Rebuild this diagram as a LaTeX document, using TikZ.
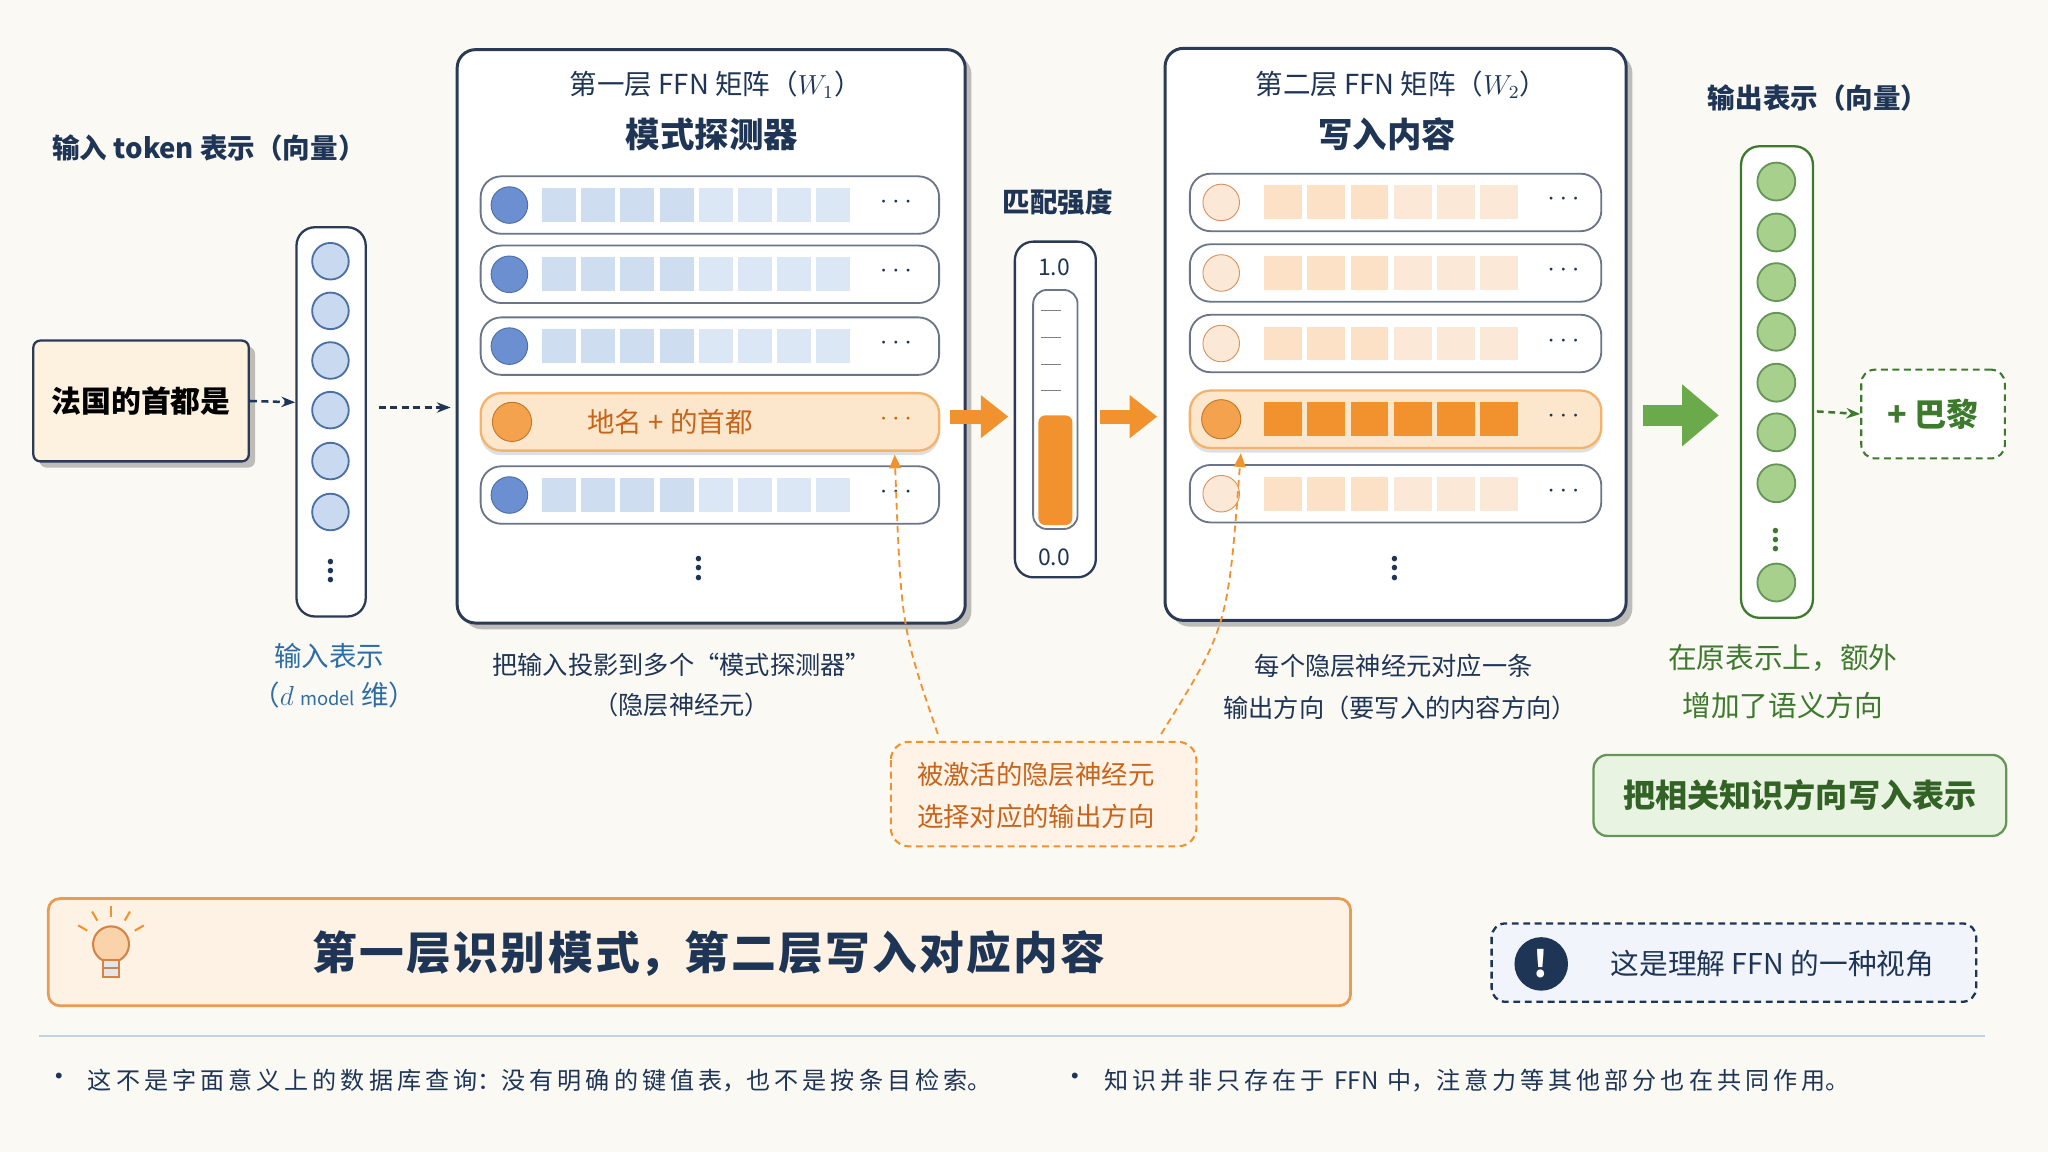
\documentclass[tikz,border=0pt]{standalone}
\usepackage{fontspec}
\setmainfont{Noto Sans CJK SC}
\usetikzlibrary{arrows.meta,shadows,calc}
\definecolor{bg}{HTML}{FBF9F4}
\definecolor{navy}{HTML}{1F3556}
\definecolor{frame}{HTML}{2B3A55}
\definecolor{bluef}{HTML}{C9DAF0}
\definecolor{blues}{HTML}{4A6FA5}
\definecolor{blued}{HTML}{6B8FD0}
\definecolor{cellA}{HTML}{C3D5EE}
\definecolor{cellB}{HTML}{DCE7F6}
\definecolor{orng}{HTML}{F2922E}
\definecolor{orngl}{HTML}{FCE7CC}
\definecolor{orngb}{HTML}{F5B26B}
\definecolor{brown}{HTML}{C8641A}
\definecolor{peach}{HTML}{FBD9B8}
\definecolor{peachl}{HTML}{FCE8D6}
\definecolor{grn}{HTML}{6BAA4A}
\definecolor{grnd}{HTML}{3E7A2E}
\definecolor{grnf}{HTML}{A8D08D}
\definecolor{capblue}{HTML}{2E6DA4}
\tikzset{
 px/.style={x={(0.02cm,0)},y={(0,-0.02cm)}},
 t/.style={font=\fontsize{11}{13}\selectfont,text=navy,inner sep=0pt},
 title/.style={font=\fontsize{15}{18}\selectfont\bfseries,text=navy,inner sep=0pt},
 row/.style={draw=frame!70,fill=white,rounded corners=9pt,line width=0.8pt},
 dasharr/.style={densely dashed,line width=1.1pt,navy,-{Stealth[length=6pt]}},
 fat/.style={line width=6pt,-{Triangle[length=12pt,width=18pt]}},
 vd/.style={t,font=\fontsize{11}{11}\selectfont\bfseries},
}
\begin{document}
\begin{tikzpicture}[px]
\useasboundingbox (0,0) rectangle (1568,882);
\fill[bg] (0,0) rectangle (1568,882);
% input text
\node[t,font=\fontsize{12}{14}\selectfont\bfseries] (lin) at (160,113) {输入 token 表示（向量）};
\node[draw=frame,fill=orngl!60,line width=1pt,rounded corners=3pt,drop shadow,minimum width=3.3cm,minimum height=1.85cm,font=\fontsize{13}{15}\selectfont\bfseries] (fr) at (108,307) {法国的首都是};
% input vector
\draw[frame,line width=1pt,fill=white,rounded corners=8pt] (227,174) rectangle (280,472);
\foreach \y [count=\i] in {200,238,276,314,353,392}
  \node[circle,draw=blues,fill=bluef,line width=0.8pt,minimum size=0.56cm,inner sep=0] (iv\i) at (253,\y) {};
\node[vd] (ivd) at (253,432) {$\vdots$};
\coordinate (ivin) at (226,308);
\draw[dasharr] (fr.east) -- (ivin);
\node[t,text=capblue,font=\fontsize{12}{14}\selectfont] (lab1) at (252,502) {输入表示};
\node[t,text=capblue,font=\fontsize{12}{14}\selectfont] (lab2) at (256,532) {（$d$ {\fontsize{8}{9}\selectfont model} 维）};
% box 1
\draw[frame,line width=1.3pt,fill=white,rounded corners=8pt,drop shadow] (350,38) rectangle (739,477);
\coordinate (b1in) at (345,312); \coordinate (ivout) at (290,312);
\draw[dasharr] (ivout) -- (b1in);
\node[t,font=\fontsize{12}{14}\selectfont] (t1) at (548,65) {第一层 FFN 矩阵（$W_1$）};
\node[title] (t1b) at (545,103) {模式探测器};
\foreach \y [count=\i] in {157,210,265,379}{
  \draw[row] (368,\y-22) rectangle (719,\y+22);
  \node[circle,draw=blues,fill=blued,minimum size=0.56cm,inner sep=0] (c1\i) at (390,\y) {};
  \foreach \k in {0,...,7}{
    \ifnum\k<4 \fill[cellA!80] (415+\k*30,\y-13) rectangle (441+\k*30,\y+13);
    \else \fill[cellB] (415+\k*30,\y-13) rectangle (441+\k*30,\y+13); \fi}
  \node[t,font=\fontsize{12}{12}\selectfont\bfseries] at (686,\y-2) {$\cdots$};
}
\draw[fill=orngl,draw=orngb,rounded corners=9pt,line width=1pt,drop shadow={opacity=0.25,shadow xshift=0,shadow yshift=-2pt}] (368,301) rectangle (719,345);
\node[circle,draw=orng!80!black,fill=orng!85,minimum size=0.6cm,inner sep=0] (c14) at (392,323) {};
\node[t,text=brown,font=\fontsize{12}{14}\selectfont] (pat) at (513,323) {地名 + 的首都};
\node[t,text=brown,font=\fontsize{12}{12}\selectfont\bfseries] (pd) at (686,321) {$\cdots$};
\node[vd] at (535,430) {$\vdots$};
\node[t] (cap1) at (522,509) {把输入投影到多个“模式探测器”};
\node[t] (cap1b) at (522,540) {（隐层神经元）};
% arrows orange
\coordinate (oa1) at (727,319); \coordinate (oa2) at (772,319);
\draw[fat,orng] (oa1) -- (oa2);
\coordinate (oa3) at (842,319); \coordinate (oa4) at (886,319);
\draw[fat,orng] (oa3) -- (oa4);
% gauge
\node[t,font=\fontsize{12}{14}\selectfont\bfseries] (mz) at (810,155) {匹配强度};
\draw[frame,line width=1pt,fill=white,rounded corners=8pt] (777,185) rectangle (839,442);
\draw[frame!70,line width=0.8pt,fill=white,rounded corners=6pt] (791,222) rectangle (825,405);
\fill[orng,rounded corners=3pt] (795,318) rectangle (821,402);
\foreach \y in {238,258,279,299} \draw[gray] (797,\y) -- (812,\y);
\node[t,font=\fontsize{10}{12}\selectfont] at (807,205) {1.0};
\node[t,font=\fontsize{10}{12}\selectfont] at (807,427) {0.0};
% box 2
\draw[frame,line width=1.3pt,fill=white,rounded corners=8pt,drop shadow] (892,37) rectangle (1245,475);
\node[t,font=\fontsize{12}{14}\selectfont] (t2) at (1073,65) {第二层 FFN 矩阵（$W_2$）};
\node[title] (t2b) at (1062,103) {写入内容};
\foreach \y [count=\i] in {155,209,263,378}{
  \draw[row] (911,\y-22) rectangle (1226,\y+22);
  \node[circle,draw=brown!70,fill=peachl,minimum size=0.56cm,inner sep=0] (c2\i) at (935,\y) {};
  \foreach \k in {0,...,5}{
    \ifnum\k<3 \fill[peach!80] (968+\k*33,\y-13) rectangle (997+\k*33,\y+13);
    \else \fill[peachl] (968+\k*33,\y-13) rectangle (997+\k*33,\y+13); \fi}
  \node[t,font=\fontsize{12}{12}\selectfont\bfseries] at (1197,\y-2) {$\cdots$};
}
\draw[fill=orngl,draw=orngb,rounded corners=9pt,line width=1pt,drop shadow={opacity=0.25,shadow xshift=0,shadow yshift=-2pt}] (911,299) rectangle (1226,343);
\node[circle,draw=orng!80!black,fill=orng!85,minimum size=0.6cm,inner sep=0] (c24) at (935,321) {};
\foreach \k in {0,...,5} \fill[orng] (968+\k*33,308) rectangle (997+\k*33,334);
\node[t,font=\fontsize{12}{12}\selectfont\bfseries] at (1197,319) {$\cdots$};
\node[vd] at (1068,430) {$\vdots$};
\node[t] (cap2) at (1067,510) {每个隐层神经元对应一条};
\node[t] (cap2b) at (1072,542) {输出方向（要写入的内容方向）};
% callout
\draw[orng,densely dashed,line width=0.9pt,fill=orngl!50,rounded corners=8pt] (682,568) rectangle (916,648);
\node[t,text=brown,font=\fontsize{11.5}{14}\selectfont] (co1) at (793,593) {被激活的隐层神经元};
\node[t,text=brown,font=\fontsize{11.5}{14}\selectfont] (co2) at (793,625) {选择对应的输出方向};
\coordinate (cl1) at (718,562); \coordinate (cl1e) at (685,348);
\coordinate (cl2) at (889,562); \coordinate (cl2e) at (950,347);
\draw[orng,densely dashed,line width=0.8pt,-{Triangle[length=6pt,width=5pt]}] (cl1) .. controls (690,480) .. (cl1e);
\draw[orng,densely dashed,line width=0.8pt,-{Triangle[length=6pt,width=5pt]}] (cl2) .. controls (940,480) .. (cl2e);
% green
\coordinate (ga1) at (1258,318); \coordinate (ga2) at (1316,318);
\draw[line width=9pt,grn,-{Triangle[length=16pt,width=26pt]}] (ga1) -- (ga2);
\node[t,font=\fontsize{12}{14}\selectfont\bfseries] (lout) at (1392,75) {输出表示（向量）};
\draw[grnd,line width=1pt,fill=white,rounded corners=8pt] (1333,112) rectangle (1388,473);
\foreach \y [count=\i] in {139,178,216,254,293,331,370,446}
  \node[circle,draw=grnd!80,fill=grnf,line width=0.8pt,minimum size=0.58cm,inner sep=0] (ov\i) at (1360,\y) {};
\node[vd,text=grnd] at (1360,408) {$\vdots$};
\node[draw=grnd,densely dashed,line width=0.9pt,fill=white,rounded corners=6pt,minimum width=2.2cm,minimum height=1.36cm,text=grnd,font=\fontsize{14}{16}\selectfont\bfseries] (pb) at (1480,317) {+ 巴黎};
\coordinate (ovo) at (1391,315);
\draw[densely dashed,line width=1.1pt,grnd,-{Stealth[length=6pt]}] (ovo) -- (pb.west);
\node[t,text=grnd,font=\fontsize{12.5}{14}\selectfont] (g1) at (1365,504) {在原表示上，额外};
\node[t,text=grnd,font=\fontsize{12.5}{14}\selectfont] (g2) at (1365,540) {增加了语义方向};
\node[draw=grnd!80,fill=grnf!25,line width=1pt,rounded corners=6pt,minimum width=6.32cm,minimum height=1.24cm,text=grnd!80!black,font=\fontsize{14}{16}\selectfont\bfseries] (gk) at (1378,609) {把相关知识方向写入表示};
% banner
\draw[fill=orngl!55,draw=orngb!70!brown,line width=1.2pt,rounded corners=5pt] (37,688) rectangle (1034,770);
\node[t,font=\fontsize{19.5}{22}\selectfont\bfseries,text=navy] (ban) at (543,730) {第\kern1pt 一\kern1pt 层\kern1pt 识\kern1pt 别\kern1pt 模\kern1pt 式，第\kern1pt 二\kern1pt 层\kern1pt 写\kern1pt 入\kern1pt 对\kern1pt 应\kern1pt 内\kern1pt 容};
% bulb
\node[circle,draw=brown!80,fill=orng!40,line width=0.9pt,minimum size=0.55cm,inner sep=0] (bulb) at (85,723) {};
\draw[brown!80,line width=0.9pt,fill=gray!20] (79,735) rectangle (91,748);
\draw[brown!80,line width=0.8pt] (79,741) -- (91,741);
\foreach \a in {150,120,90,60,30} \draw[orng,line width=0.9pt] ($(85,723)+(\a:0.42cm)$) -- ($(85,723)+(\a:0.58cm)$);
% note
\draw[navy,densely dashed,line width=1pt,fill=cellB!40,rounded corners=6pt] (1142,707) rectangle (1513,767);
\node[circle,fill=navy,minimum size=0.82cm,inner sep=0,text=white,font=\fontsize{16}{16}\selectfont\bfseries] (ex) at (1180,738) {!};
\node[t,font=\fontsize{12.5}{14}\selectfont] (nt) at (1357,738) {这是理解 FFN 的一种视角};
% bottom
\draw[capblue!30,line width=0.8pt] (30,793) -- (1520,793);
\node[t,font=\fontsize{12}{12}\selectfont] (d1) at (45,827) {•};
\node[t,anchor=west,font=\fontsize{10.5}{12}\selectfont] (bl1) at (67,827) {这\,不\,是\,字\,面\,意\,义\,上\,的\,数\,据\,库\,查\,询：没\,有\,明\,确\,的\,键\,值\,表，也\,不\,是\,按\,条\,目\,检\,索。};
\node[t,font=\fontsize{12}{12}\selectfont] (d2) at (823,827) {•};
\node[t,anchor=west,font=\fontsize{10.5}{12}\selectfont] (bl2) at (845,827) {知\,识\,并\,非\,只\,存\,在\,于\, FFN \,中，注\,意\,力\,等\,其\,他\,部\,分\,也\,在\,共\,同\,作\,用。};
\end{tikzpicture}
\end{document}
